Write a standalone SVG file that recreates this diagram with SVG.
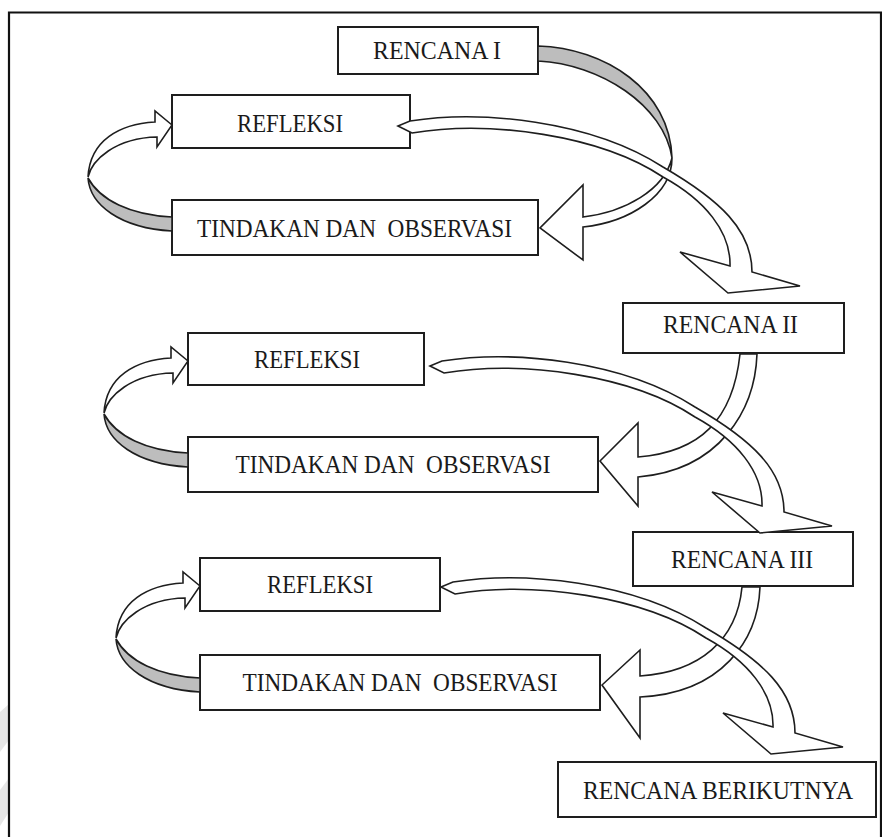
<svg xmlns="http://www.w3.org/2000/svg" width="882" height="837" viewBox="0 0 882 837">
<style>
.box{fill:#fff;stroke:#1e1e1e;stroke-width:2}
.lbl{font-family:"Liberation Serif","Times New Roman",serif;font-size:25px;fill:#1a1a1a;text-anchor:middle}
.arw{fill:#fff;stroke:#1e1e1e;stroke-width:1.6;stroke-linejoin:miter}
.gry{fill:#bdbdbd;stroke:#1e1e1e;stroke-width:1.6}
.frame{fill:none;stroke:#111;stroke-width:2.2}
</style>
<defs>
<g id="loopTpl">
<path class="gry" d="M -84,53 C -82,80 -52,103 0,106 L 0,92 C -42,90 -72,75 -84,53 Z"/>
<path class="arw" d="M 0,0 L -17,-14 L -17,-3 C -52,-1 -82,15 -84,52 C -80,35 -57,13 -15,12 L -15,22 Z"/>
</g>
<path id="bTpl" class="arw" d="M 398,126 L 410,121 C 480,110 590,120 663,167 C 720,200 752,230 752,272 L 800,286 L 728,293 L 680,252 L 730,266 C 731,232 705,200 663,177 C 600,135 490,120 412,133 Z"/>
</defs>
<rect width="882" height="837" fill="#fff"/>
<g id="watermark" fill="#e6e6e6">
<polygon points="0,712 9,704 9,740 0,752"/>
<polygon points="0,790 9,778 9,812 0,826"/>
</g>
<path class="frame" d="M 9,837 L 9,12.5 L 881,12.5 L 881,837"/>

<g id="nodes">
<g id="rencana1"><rect class="box" x="338" y="27" width="200" height="47"/><text class="lbl" x="437" y="59" textLength="128" lengthAdjust="spacingAndGlyphs">RENCANA I</text></g>
<g id="refleksi1"><rect class="box" x="172" y="95" width="238" height="53"/><text class="lbl" x="290" y="131.5" textLength="106" lengthAdjust="spacingAndGlyphs">REFLEKSI</text></g>
<g id="tindakan1"><rect class="box" x="172" y="200" width="366" height="55"/><text class="lbl" x="354.5" y="236.5" textLength="315" lengthAdjust="spacingAndGlyphs" xml:space="preserve">TINDAKAN DAN  OBSERVASI</text></g>
<g id="rencana2"><rect class="box" x="623" y="303" width="221" height="50"/><text class="lbl" x="730.5" y="333" textLength="135" lengthAdjust="spacingAndGlyphs">RENCANA II</text></g>
<g id="refleksi2"><rect class="box" x="188" y="333" width="236" height="52"/><text class="lbl" x="307" y="367.5" textLength="106" lengthAdjust="spacingAndGlyphs">REFLEKSI</text></g>
<g id="tindakan2"><rect class="box" x="188" y="437" width="410" height="55"/><text class="lbl" x="393" y="473" textLength="315" lengthAdjust="spacingAndGlyphs" xml:space="preserve">TINDAKAN DAN  OBSERVASI</text></g>
<g id="rencana3"><rect class="box" x="633" y="532" width="220" height="54"/><text class="lbl" x="742" y="567.5" textLength="142" lengthAdjust="spacingAndGlyphs">RENCANA III</text></g>
<g id="refleksi3"><rect class="box" x="200" y="558" width="240" height="53"/><text class="lbl" x="320" y="593" textLength="106" lengthAdjust="spacingAndGlyphs">REFLEKSI</text></g>
<g id="tindakan3"><rect class="box" x="200" y="655" width="400" height="55"/><text class="lbl" x="400" y="691" textLength="315" lengthAdjust="spacingAndGlyphs" xml:space="preserve">TINDAKAN DAN  OBSERVASI</text></g>
<g id="rencanaBerikutnya"><rect class="box" x="558" y="762" width="318" height="55"/><text class="lbl" x="718" y="799" textLength="270" lengthAdjust="spacingAndGlyphs">RENCANA BERIKUTNYA</text></g>
</g>

<g id="connectors">
<use href="#loopTpl" transform="translate(172,125)"/>
<use href="#loopTpl" transform="translate(188,361)"/>
<use href="#loopTpl" transform="translate(200,586)"/>
<path class="gry" d="M 538,46 C 605,48 670,90 672,158 C 664,105 600,64 538,61 Z"/>
<path class="arw" d="M 672,158 C 672,195 630,222 583,227 L 583,260 L 540,228 L 583,185 L 583,217 C 625,212 664,190 672,158 Z"/>
<path class="arw" d="M 740,354 L 757,354 C 755,410 720,470 638,477 L 638,506 L 600,461 L 638,423 L 638,457 C 700,452 733,420 740,354 Z"/>
<path class="arw" d="M 742,587 L 760,587 C 758,640 722,693 640,697 L 640,738 L 602,685 L 640,650 L 640,676 C 700,672 737,640 742,587 Z"/>
<use href="#bTpl"/>
<use href="#bTpl" transform="translate(32,240)"/>
<use href="#bTpl" transform="translate(43,461)"/>
</g>
</svg>
